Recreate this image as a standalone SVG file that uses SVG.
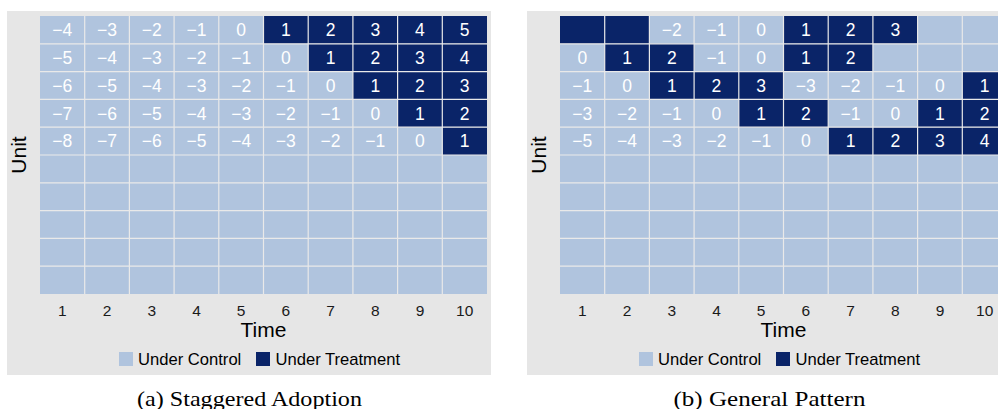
<svg xmlns="http://www.w3.org/2000/svg" width="998" height="409" viewBox="0 0 998 409">
<style>
.bg{fill:#e6e6e6}
.lt{fill:#b0c4de}
.dk{fill:#0a2468}
.gl{stroke:#e9e9e9;stroke-width:1.2}
.c{font-family:"Liberation Sans",Arial,sans-serif;font-size:17.5px;fill:#ffffff;text-anchor:middle}
.tk{font-family:"Liberation Sans",Arial,sans-serif;font-size:15.5px;fill:#1a1a1a;text-anchor:middle}
.ax{font-family:"Liberation Sans",Arial,sans-serif;font-size:21px;fill:#000;text-anchor:middle}
.lg{font-family:"Liberation Sans",Arial,sans-serif;font-size:16.6px;fill:#000}
.cap{font-family:"Liberation Serif","Times New Roman",serif;font-size:22px;fill:#000;text-anchor:middle}
</style>
<defs>
<g id="grid">
<rect class="lt" x="0" y="0" width="447" height="278"/>
</g>
<g id="lines">
<path class="gl" d="M44.7 0V278M89.4 0V278M134.1 0V278M178.8 0V278M223.5 0V278M268.2 0V278M312.9 0V278M357.6 0V278M402.3 0V278M0 27.8H447M0 55.6H447M0 83.4H447M0 111.2H447M0 139H447M0 166.8H447M0 194.6H447M0 222.4H447M0 250.2H447"/>
</g>
</defs>
<rect width="998" height="409" fill="#ffffff"/>

<g id="panel-a">
<rect class="bg" x="7" y="11" width="484" height="364"/>
<use href="#grid" x="40" y="16"/>
<g id="a-treated">
<rect class="dk" x="263.5" y="16" width="223.5" height="27.8"/>
<rect class="dk" x="308.2" y="43.8" width="178.8" height="27.8"/>
<rect class="dk" x="352.9" y="71.6" width="134.1" height="27.8"/>
<rect class="dk" x="397.6" y="99.4" width="89.4" height="27.8"/>
<rect class="dk" x="442.3" y="127.2" width="44.7" height="27.8"/>
</g>
<use href="#lines" x="40" y="16"/>
<g id="a-values">
<text class="c" x="62.35" y="36.2">−4</text><text class="c" x="107.05" y="36.2">−3</text><text class="c" x="151.75" y="36.2">−2</text><text class="c" x="196.45" y="36.2">−1</text><text class="c" x="241.15" y="36.2">0</text><text class="c" x="285.85" y="36.2">1</text><text class="c" x="330.55" y="36.2">2</text><text class="c" x="375.25" y="36.2">3</text><text class="c" x="419.95" y="36.2">4</text><text class="c" x="464.65" y="36.2">5</text>
<text class="c" x="62.35" y="64">−5</text><text class="c" x="107.05" y="64">−4</text><text class="c" x="151.75" y="64">−3</text><text class="c" x="196.45" y="64">−2</text><text class="c" x="241.15" y="64">−1</text><text class="c" x="285.85" y="64">0</text><text class="c" x="330.55" y="64">1</text><text class="c" x="375.25" y="64">2</text><text class="c" x="419.95" y="64">3</text><text class="c" x="464.65" y="64">4</text>
<text class="c" x="62.35" y="91.8">−6</text><text class="c" x="107.05" y="91.8">−5</text><text class="c" x="151.75" y="91.8">−4</text><text class="c" x="196.45" y="91.8">−3</text><text class="c" x="241.15" y="91.8">−2</text><text class="c" x="285.85" y="91.8">−1</text><text class="c" x="330.55" y="91.8">0</text><text class="c" x="375.25" y="91.8">1</text><text class="c" x="419.95" y="91.8">2</text><text class="c" x="464.65" y="91.8">3</text>
<text class="c" x="62.35" y="119.6">−7</text><text class="c" x="107.05" y="119.6">−6</text><text class="c" x="151.75" y="119.6">−5</text><text class="c" x="196.45" y="119.6">−4</text><text class="c" x="241.15" y="119.6">−3</text><text class="c" x="285.85" y="119.6">−2</text><text class="c" x="330.55" y="119.6">−1</text><text class="c" x="375.25" y="119.6">0</text><text class="c" x="419.95" y="119.6">1</text><text class="c" x="464.65" y="119.6">2</text>
<text class="c" x="62.35" y="147.4">−8</text><text class="c" x="107.05" y="147.4">−7</text><text class="c" x="151.75" y="147.4">−6</text><text class="c" x="196.45" y="147.4">−5</text><text class="c" x="241.15" y="147.4">−4</text><text class="c" x="285.85" y="147.4">−3</text><text class="c" x="330.55" y="147.4">−2</text><text class="c" x="375.25" y="147.4">−1</text><text class="c" x="419.95" y="147.4">0</text><text class="c" x="464.65" y="147.4">1</text>
</g>
<g id="a-axis">
<text class="tk" x="62.35" y="315.5">1</text><text class="tk" x="107.05" y="315.5">2</text><text class="tk" x="151.75" y="315.5">3</text><text class="tk" x="196.45" y="315.5">4</text><text class="tk" x="241.15" y="315.5">5</text><text class="tk" x="285.85" y="315.5">6</text><text class="tk" x="330.55" y="315.5">7</text><text class="tk" x="375.25" y="315.5">8</text><text class="tk" x="419.95" y="315.5">9</text><text class="tk" x="464.65" y="315.5">10</text>
<text class="ax" x="263.5" y="337">Time</text>
<text class="ax" transform="translate(26 155) rotate(-90)">Unit</text>
</g>
<g id="a-legend">
<rect class="lt" x="119" y="352" width="14" height="14"/>
<text class="lg" x="138" y="365">Under Control</text>
<rect class="dk" x="256" y="352" width="14" height="14"/>
<text class="lg" x="275.5" y="365">Under Treatment</text>
</g>
<text class="cap" x="249.5" y="406" textLength="225" lengthAdjust="spacingAndGlyphs">(a) Staggered Adoption</text>
</g>

<g id="panel-b">
<rect class="bg" x="527" y="11" width="475" height="364"/>
<use href="#grid" x="560" y="16"/>
<g id="b-treated">
<rect class="dk" x="560" y="16" width="89.4" height="27.8"/>
<rect class="dk" x="783.5" y="16" width="134.1" height="27.8"/>
<rect class="dk" x="604.7" y="43.8" width="89.4" height="27.8"/>
<rect class="dk" x="783.5" y="43.8" width="89.4" height="27.8"/>
<rect class="dk" x="649.4" y="71.6" width="134.1" height="27.8"/>
<rect class="dk" x="962.3" y="71.6" width="44.7" height="27.8"/>
<rect class="dk" x="738.8" y="99.4" width="89.4" height="27.8"/>
<rect class="dk" x="917.6" y="99.4" width="89.4" height="27.8"/>
<rect class="dk" x="828.2" y="127.2" width="178.8" height="27.8"/>
</g>
<use href="#lines" x="560" y="16"/>
<g id="b-values">
<text class="c" x="671.75" y="36.2">−2</text><text class="c" x="716.45" y="36.2">−1</text><text class="c" x="761.15" y="36.2">0</text><text class="c" x="805.85" y="36.2">1</text><text class="c" x="850.55" y="36.2">2</text><text class="c" x="895.25" y="36.2">3</text>
<text class="c" x="582.35" y="64">0</text><text class="c" x="627.05" y="64">1</text><text class="c" x="671.75" y="64">2</text><text class="c" x="716.45" y="64">−1</text><text class="c" x="761.15" y="64">0</text><text class="c" x="805.85" y="64">1</text><text class="c" x="850.55" y="64">2</text>
<text class="c" x="582.35" y="91.8">−1</text><text class="c" x="627.05" y="91.8">0</text><text class="c" x="671.75" y="91.8">1</text><text class="c" x="716.45" y="91.8">2</text><text class="c" x="761.15" y="91.8">3</text><text class="c" x="805.85" y="91.8">−3</text><text class="c" x="850.55" y="91.8">−2</text><text class="c" x="895.25" y="91.8">−1</text><text class="c" x="939.95" y="91.8">0</text><text class="c" x="984.65" y="91.8">1</text>
<text class="c" x="582.35" y="119.6">−3</text><text class="c" x="627.05" y="119.6">−2</text><text class="c" x="671.75" y="119.6">−1</text><text class="c" x="716.45" y="119.6">0</text><text class="c" x="761.15" y="119.6">1</text><text class="c" x="805.85" y="119.6">2</text><text class="c" x="850.55" y="119.6">−1</text><text class="c" x="895.25" y="119.6">0</text><text class="c" x="939.95" y="119.6">1</text><text class="c" x="984.65" y="119.6">2</text>
<text class="c" x="582.35" y="147.4">−5</text><text class="c" x="627.05" y="147.4">−4</text><text class="c" x="671.75" y="147.4">−3</text><text class="c" x="716.45" y="147.4">−2</text><text class="c" x="761.15" y="147.4">−1</text><text class="c" x="805.85" y="147.4">0</text><text class="c" x="850.55" y="147.4">1</text><text class="c" x="895.25" y="147.4">2</text><text class="c" x="939.95" y="147.4">3</text><text class="c" x="984.65" y="147.4">4</text>
</g>
<g id="b-axis">
<text class="tk" x="582.35" y="315.5">1</text><text class="tk" x="627.05" y="315.5">2</text><text class="tk" x="671.75" y="315.5">3</text><text class="tk" x="716.45" y="315.5">4</text><text class="tk" x="761.15" y="315.5">5</text><text class="tk" x="805.85" y="315.5">6</text><text class="tk" x="850.55" y="315.5">7</text><text class="tk" x="895.25" y="315.5">8</text><text class="tk" x="939.95" y="315.5">9</text><text class="tk" x="984.65" y="315.5">10</text>
<text class="ax" x="783.5" y="337">Time</text>
<text class="ax" transform="translate(546 155) rotate(-90)">Unit</text>
</g>
<g id="b-legend">
<rect class="lt" x="639" y="352" width="14" height="14"/>
<text class="lg" x="658" y="365">Under Control</text>
<rect class="dk" x="776" y="352" width="14" height="14"/>
<text class="lg" x="795.5" y="365">Under Treatment</text>
</g>
<text class="cap" x="769.5" y="406" textLength="192" lengthAdjust="spacingAndGlyphs">(b) General Pattern</text>
</g>
</svg>
